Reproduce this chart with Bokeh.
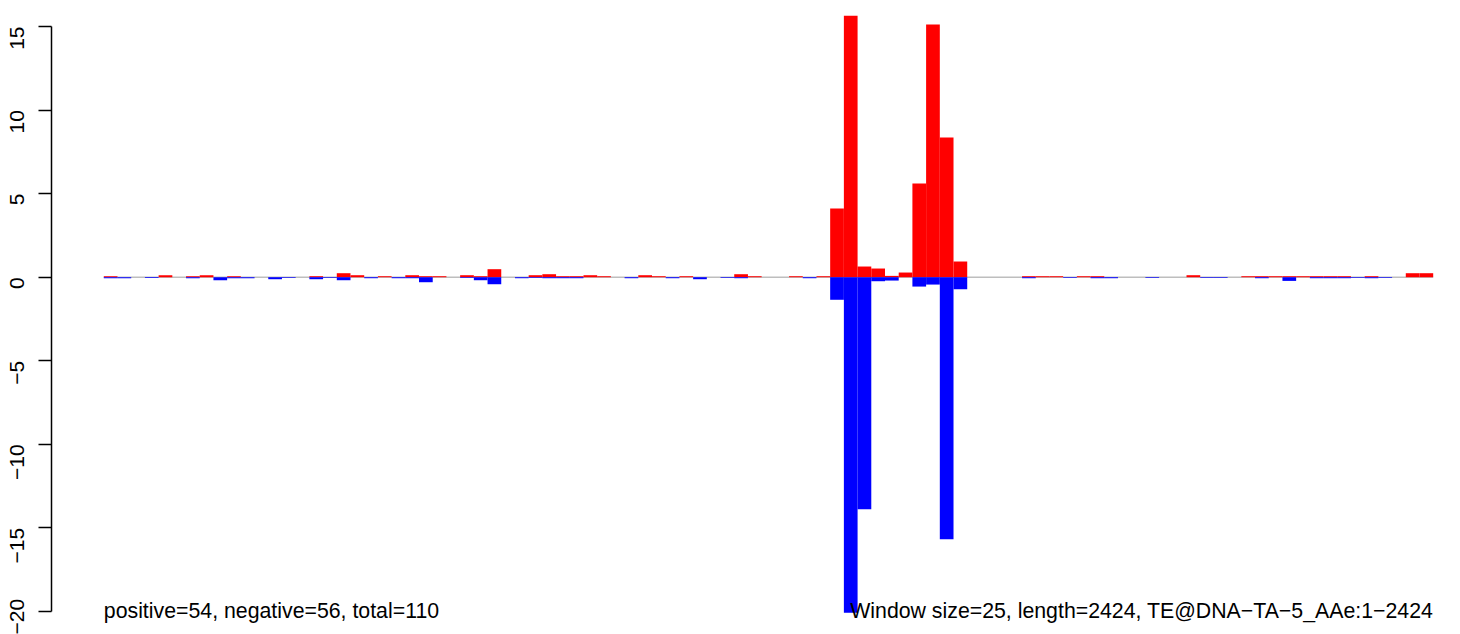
from bokeh.plotting import figure
from bokeh.models import Range1d, FixedTicker, ColumnDataSource, Label
from bokeh.embed import file_html
from bokeh.resources import INLINE
import math

window = 25
length = 2424
label_left = "positive=54, negative=56, total=110"
label_right = "Window size=25, length=2424, TE@DNA\u2212TA\u22125_AAe:1\u22122424"
y_ticks = [-20, -15, -10, -5, 0, 5, 10, 15]

pos = [
    0.06, 0, 0, 0, 0.12, 0, 0.06, 0.12, 0, 0.06,
    0, 0, 0, 0, 0, 0.06, 0, 0.24, 0.12, 0,
    0.06, 0, 0.12, 0.06, 0.06, 0, 0.12, 0.06, 0.48, 0,
    0, 0.12, 0.18, 0.06, 0.06, 0.12, 0.06, 0, 0, 0.12,
    0.06, 0, 0.06, 0, 0, 0, 0.18, 0.06, 0, 0,
    0.06, 0, 0.06, 4.11, 15.66, 0.64, 0.52, 0.08, 0.28, 5.61,
    15.12, 8.36, 0.94, 0, 0, 0, 0, 0.06, 0.06, 0.06,
    0, 0.06, 0.06, 0, 0, 0, 0, 0, 0, 0.12,
    0, 0, 0, 0.06, 0.06, 0.06, 0.06, 0.06, 0.06, 0.06,
    0.06, 0, 0.06, 0, 0, 0.24, 0.24,
]
neg = [
    -0.06, -0.06, 0, -0.04, 0, 0, -0.06, 0, -0.18, -0.06,
    -0.06, 0, -0.12, -0.04, 0, -0.12, -0.04, -0.18, 0, -0.06,
    0, -0.06, -0.06, -0.30, 0, 0, -0.04, -0.18, -0.42, 0,
    -0.06, -0.04, -0.06, -0.06, -0.06, 0, 0, 0, -0.06, 0,
    0, -0.06, 0, -0.12, 0, -0.04, -0.06, 0, 0, 0,
    0, -0.06, 0, -1.35, -20.08, -13.88, -0.24, -0.20, 0, -0.56,
    -0.44, -15.68, -0.72, 0, 0, 0, 0, -0.06, 0, 0,
    -0.04, 0, -0.06, -0.06, 0, 0, -0.04, 0, 0, 0,
    -0.04, -0.04, 0, 0, -0.06, 0, -0.22, 0, -0.06, -0.06,
    -0.06, -0.04, -0.06, -0.04, 0, 0, 0,
]

n = len(pos)
left = [i * window for i in range(n)]
right = [(i + 1) * window for i in range(n)]
src = ColumnDataSource(dict(left=left, right=right, pos=pos, neg=neg,
                            zero=[0] * n))

ymin = min(neg)
ymax = max(pos)
pad_bottom = 0.7  # room below the data for the text descenders
p = figure(width=1460, height=634,
           x_range=Range1d(-95.4, 2474.8),
           y_range=Range1d(ymin - pad_bottom, ymax),
           output_backend="svg", toolbar_location=None,
           min_border_left=51, min_border_right=0,
           min_border_top=15, min_border_bottom=10)
p.xaxis.visible = False
p.xgrid.visible = False
p.ygrid.visible = False
p.outline_line_color = None
p.background_fill_color = "white"
p.border_fill_color = "white"

yax = p.yaxis[0]
yax.ticker = FixedTicker(ticks=y_ticks)
yax.bounds = (min(y_ticks), max(y_ticks))
yax.minor_tick_line_color = None
yax.major_tick_in = 0
yax.major_tick_out = 13
yax.major_tick_line_width = 1.5
yax.axis_line_width = 1.5
yax.axis_line_color = "black"
yax.major_tick_line_color = "black"
yax.major_label_orientation = math.pi / 2
yax.major_label_text_font = "Liberation Sans"
yax.major_label_text_font_size = "21px"
yax.major_label_text_color = "black"
yax.major_label_standoff = 21

# baseline
p.segment(x0=[left[0]], y0=[0], x1=[right[-1]], y1=[0],
          line_color="#BEBEBE", line_width=1.5)

p.quad(left="left", right="right", bottom="zero", top="pos", source=src,
       fill_color="#FF0000", line_color=None)
p.quad(left="left", right="right", bottom="neg", top="zero", source=src,
       fill_color="#0000FF", line_color=None)

p.add_layout(Label(x=left[0], y=min(y_ticks), text=label_left,
                   text_font="Liberation Sans", text_font_size="21.3px",
                   text_color="black", text_align="left",
                   text_baseline="alphabetic"))
p.add_layout(Label(x=right[-1], y=min(y_ticks), text=label_right,
                   text_font="Liberation Sans", text_font_size="21.3px",
                   text_color="black", text_align="right",
                   text_baseline="alphabetic"))

open("out.html", "w").write(file_html(p, INLINE))
